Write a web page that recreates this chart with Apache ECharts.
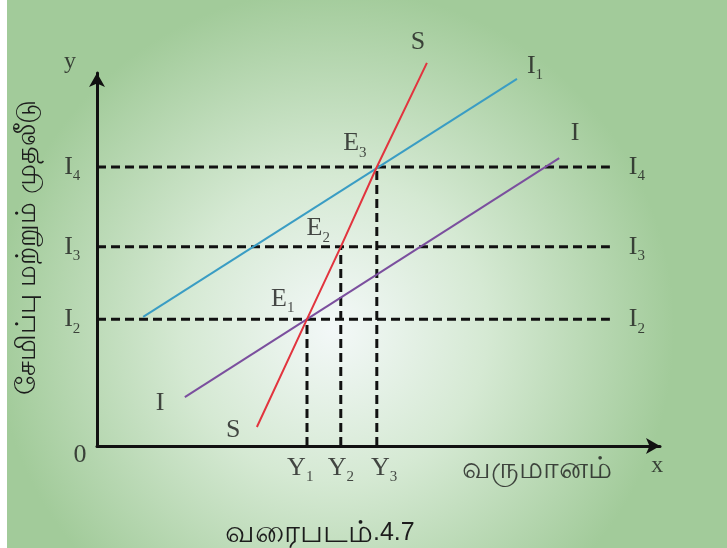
<!DOCTYPE html>
<html>
<head>
<meta charset="utf-8">
<script src="https://cdn.jsdelivr.net/npm/echarts@6/dist/echarts.min.js"></script>
<style>
  html, body { margin: 0; padding: 0; }
  #chart { width: 727px; height: 548px; }
</style>
</head>
<body>
<div id="chart"></div>
<script>
// 数据 (坐标单位: 0-100)
const levels = [34.0, 53.4, 74.8];          // I2, I3, I4
const incomes = [37.3, 43.3, 49.7];         // Y1, Y2, Y3
const dashEnd = 91.1;
const savingLine = [[28.4, 5.1], [37.3, 34.0], [43.3, 53.4], [49.7, 74.8], [58.6, 102.7]];  // S
const investLine1 = [[8.2, 34.6], [74.6, 98.4]];   // I1
const investLine = [[15.6, 13.1], [82.1, 77.2]];   // I

// 文字标注 [x, y, text]
const labels = [
    [-4.8, 102.9, '{a|y}'],
    [99.5, -5.4, '{a|x}'],
    [-3.0, -2.4, '{m|0}'],
    [-4.4, 74.8, '{m|I}{s|4}'],
    [-4.4, 53.4, '{m|I}{s|3}'],
    [-4.4, 34.0, '{m|I}{s|2}'],
    [95.9, 74.8, '{m|I}{s|4}'],
    [95.9, 53.4, '{m|I}{s|3}'],
    [95.9, 34.0, '{m|I}{s|2}'],
    [36.1, -5.9, '{m|Y}{s|1}'],
    [43.3, -5.9, '{m|Y}{s|2}'],
    [51.0, -5.9, '{m|Y}{s|3}'],
    [33.0, 39.4, '{m|E}{s|1}'],
    [39.3, 58.4, '{m|E}{s|2}'],
    [45.8, 81.2, '{m|E}{s|3}'],
    [57.0, 108.3, '{m|S}'],
    [24.2, 4.3, '{m|S}'],
    [77.8, 101.9, '{m|I}{s|1}'],
    [84.9, 83.9, '{m|I}'],
    [11.2, 11.5, '{m|I}'],
    [78.2, -6.4, '{t|வருமானம்}']
];

const serif = 'Liberation Serif';
const tamil = 'sans-serif';
const ink = '#1c1c1c';

let chart = echarts.init(document.getElementById('chart'));

let series = [];

// 水平虚线
levels.forEach(function (v) {
    series.push({
        type: 'line', z: 3, symbol: 'none', silent: true,
        lineStyle: {color: '#111', width: 3, type: [9, 5]},
        data: [[0, v], [dashEnd, v]]
    });
});
// 竖直虚线
incomes.forEach(function (v, i) {
    series.push({
        type: 'line', z: 3, symbol: 'none', silent: true,
        lineStyle: {color: '#111', width: 3, type: [9, 5]},
        data: [[v, 0], [v, levels[i]]]
    });
});

series.push({
    type: 'line', z: 4, symbol: 'none', silent: true, clip: false,
    lineStyle: {color: '#3a9dc4', width: 2},
    data: investLine1
});
series.push({
    type: 'line', z: 4, symbol: 'none', silent: true, clip: false,
    lineStyle: {color: '#7b4f9e', width: 2},
    data: investLine
});
series.push({
    type: 'line', z: 5, symbol: 'none', silent: true, clip: false,
    lineStyle: {color: '#e2343e', width: 2},
    data: savingLine
});

series.push({
    type: 'scatter', z: 6, symbolSize: 0, silent: true, clip: false,
    data: labels.map(function (d) { return {value: [d[0], d[1]], text: d[2]}; }),
    label: {
        show: true,
        position: 'inside',
        formatter: function (p) { return p.data.text; },
        rich: {
            m: {fontFamily: serif, fontSize: 26, color: ink, lineHeight: 34},
            s: {fontFamily: serif, fontSize: 15, color: ink, lineHeight: 12, verticalAlign: 'bottom'},
            a: {fontFamily: serif, fontSize: 24, color: ink},
            t: {fontFamily: tamil, fontSize: 30, color: ink}
        }
    }
});

let option = {
    animation: false,
    graphic: [
        {
            type: 'rect', z: -10, silent: true,
            shape: {x: 0, y: 0, width: 727, height: 548},
            style: {
                fill: new echarts.graphic.RadialGradient(0.46, 0.6, 0.62, [
                    {offset: 0, color: '#f3f8f8'},
                    {offset: 0.45, color: '#d5e9d3'},
                    {offset: 1, color: '#a2cb9a'}
                ])
            }
        },
        {
            type: 'rect', z: -9, silent: true,
            shape: {x: 0, y: 0, width: 7, height: 548},
            style: {fill: '#ffffff'}
        }
    ],
    title: {
        text: '{t|வரைபடம்}{d|.4.7}',
        left: 220, top: 512,
        textStyle: {
            fontWeight: 'normal',
            rich: {
                t: {fontFamily: tamil, fontSize: 31, fontWeight: 'normal', color: ink, lineHeight: 32},
                d: {fontFamily: tamil, fontSize: 25, fontWeight: 'normal', color: ink, lineHeight: 32}
            }
        }
    },
    grid: {left: 97, right: 67, top: 73, bottom: 102},
    xAxis: {
        type: 'value', min: 0, max: 100,
        axisLine: {show: true, symbol: ['none', 'arrow'], symbolSize: [12, 14],
            lineStyle: {color: '#111', width: 3}},
        axisTick: {show: false}, axisLabel: {show: false}, splitLine: {show: false}
    },
    yAxis: {
        type: 'value', min: 0, max: 100,
        name: 'சேமிப்பு மற்றும் முதலீடு',
        nameLocation: 'middle', nameRotate: 90, nameGap: 56,
        nameTextStyle: {fontFamily: tamil, fontSize: 27, color: ink, padding: [0, 0, 0, 24]},
        axisLine: {show: true, symbol: ['none', 'arrow'], symbolSize: [12, 14],
            lineStyle: {color: '#111', width: 3}},
        axisTick: {show: false}, axisLabel: {show: false}, splitLine: {show: false}
    },
    series: series
};

chart.setOption(option);
</script>
</body>
</html>
